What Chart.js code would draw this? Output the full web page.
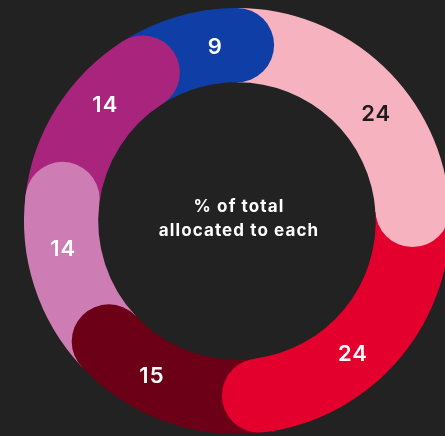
<!DOCTYPE html>
<html>
<head>
<meta charset="utf-8">
<script src="https://cdn.jsdelivr.net/npm/chart.js@4.4.1/dist/chart.umd.min.js"></script>
<style>
  html, body { margin: 0; padding: 0; background: #222222; overflow: hidden; width: 445px; height: 436px; }
  #wrap { position: absolute; left: 0; top: 0; width: 474px; height: 442px; }
</style>
</head>
<body>
<div id="wrap"><canvas id="c" width="474" height="442"></canvas></div>
<script>
const categories = ['Segment 1', 'Segment 2', 'Segment 3', 'Segment 4', 'Segment 5', 'Segment 6'];
const values = [24, 24, 15, 14, 14, 9];
const centerLines = ['% of total', 'allocated to each'];

const colors = ['#F6B2BF', '#E3002C', '#6C0017', '#CD7CB4', '#A9257D', '#0F3FA6'];
const labelColors = ['#1c1c1c', '#ffffff', '#ffffff', '#ffffff', '#ffffff', '#ffffff'];

const roundCaps = {
  id: 'roundCaps',
  afterDatasetsDraw(chart) {
    const ctx = chart.ctx;
    const meta = chart.getDatasetMeta(0);
    meta.data.forEach((arc) => {
      const p = arc.getProps(['x', 'y', 'endAngle', 'innerRadius', 'outerRadius'], true);
      const r = (p.innerRadius + p.outerRadius) / 2;
      const w = (p.outerRadius - p.innerRadius) / 2;
      ctx.save();
      ctx.beginPath();
      ctx.arc(p.x + r * Math.cos(p.endAngle), p.y + r * Math.sin(p.endAngle), w, 0, Math.PI * 2);
      ctx.fillStyle = arc.options.backgroundColor;
      ctx.fill();
      ctx.restore();
    });
  },
  afterDraw(chart) {
    const ctx = chart.ctx;
    const meta = chart.getDatasetMeta(0);
    ctx.save();
    ctx.textAlign = 'center';
    ctx.textBaseline = 'middle';
    ctx.font = '600 22px Inter';
    ctx.letterSpacing = '1px';
    let cx = 0, cy = 0;
    meta.data.forEach((arc, i) => {
      const p = arc.getProps(['x', 'y', 'startAngle', 'endAngle', 'innerRadius', 'outerRadius'], true);
      cx = p.x; cy = p.y;
      const r = (p.innerRadius + p.outerRadius) / 2;
      const w = (p.outerRadius - p.innerRadius) / 2;
      const a = (p.startAngle + p.endAngle) / 2 + 0.75 * Math.asin(w / r);
      ctx.fillStyle = labelColors[i];
      ctx.fillText(String(values[i]), p.x + r * Math.cos(a), p.y + r * Math.sin(a) + 1);
    });
    ctx.fillStyle = '#ffffff';
    ctx.font = '700 17px Inter';
    ctx.letterSpacing = '1.1px';
    ctx.fillText(centerLines[0], cx + 2, cy - 14);
    ctx.fillText(centerLines[1], cx + 2, cy + 10);
    ctx.restore();
  }
};

new Chart(document.getElementById('c'), {
  type: 'doughnut',
  data: {
    labels: categories,
    datasets: [{
      data: values,
      backgroundColor: colors,
      borderWidth: 0,
      hoverOffset: 0
    }]
  },
  options: {
    responsive: false,
    animation: false,
    devicePixelRatio: 1,
    events: [],
    radius: 213,
    cutout: 144,
    rotation: 0,
    layout: { padding: 0 },
    plugins: {
      legend: { display: false },
      tooltip: { enabled: false }
    }
  },
  plugins: [roundCaps]
});
</script>
</body>
</html>
